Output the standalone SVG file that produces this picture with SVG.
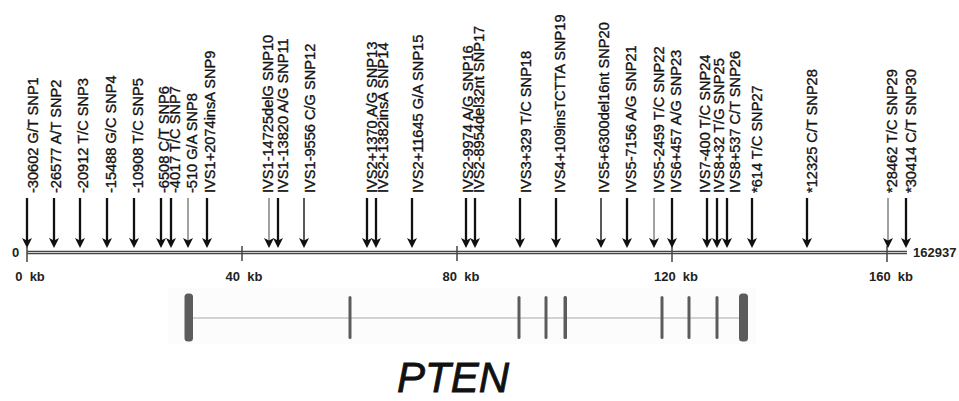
<svg xmlns="http://www.w3.org/2000/svg" width="959" height="401" viewBox="0 0 959 401">
<style>
.lb{font-family:"Liberation Sans",Arial,sans-serif;font-size:14.6px;fill:#111;stroke:#111;stroke-width:0.35}
.ax{font-family:"Liberation Sans",Arial,sans-serif;font-size:13px;font-weight:bold;fill:#222}
.ar{stroke:#111;stroke-width:2.3;fill:none}
.th{stroke:#222;stroke-width:1.5;fill:none}
.gr{stroke:#8a8a8a;stroke-width:1.6;fill:none}
.tk{stroke:#444;stroke-width:1.5}
.ex{fill:#5c5c5c}
</style>
<defs>
<marker id="ah" markerUnits="userSpaceOnUse" markerWidth="12" markerHeight="12" viewBox="0 -6 12 12" refX="6" refY="0" orient="auto">
<path d="M0,-5 L10,0 L0,5 L2.5,0 z" fill="#111"/>
</marker>
</defs>
<rect width="959" height="401" fill="#fff"/>

<g id="axis">
<line x1="27" y1="252.5" x2="907" y2="252.5" stroke="#444" stroke-width="3.6"/>
<line x1="27" y1="252.5" x2="907" y2="252.5" stroke="#cfcfcf" stroke-width="1.2"/>
<line class="tk" x1="27" y1="247" x2="27" y2="262"/>
<line class="tk" x1="242" y1="246" x2="242" y2="261"/>
<line class="tk" x1="457" y1="246" x2="457" y2="261"/>
<line class="tk" x1="672" y1="246" x2="672" y2="262"/>
<line class="tk" x1="887" y1="246" x2="887" y2="262"/>
<text class="ax" x="12" y="257">0</text>
<text class="ax" x="913" y="256.5">162937</text>
<text class="ax" x="30" y="281" text-anchor="middle" xml:space="preserve">0  kb</text>
<text class="ax" x="244" y="281" text-anchor="middle" xml:space="preserve">40  kb</text>
<text class="ax" x="461" y="281" text-anchor="middle" xml:space="preserve">80  kb</text>
<text class="ax" x="676" y="281" text-anchor="middle" xml:space="preserve">120  kb</text>
<text class="ax" x="891" y="281" text-anchor="middle" xml:space="preserve">160  kb</text>
</g>

<g id="connectors">
<line class="ar" x1="27" y1="198" x2="27" y2="244" marker-end="url(#ah)"/>
<line class="ar" x1="54" y1="198" x2="54" y2="244" marker-end="url(#ah)"/>
<line class="ar" x1="80" y1="198" x2="80" y2="244" marker-end="url(#ah)"/>
<line class="ar" x1="107" y1="198" x2="107" y2="244" marker-end="url(#ah)"/>
<line class="ar" x1="134" y1="198" x2="134" y2="244" marker-end="url(#ah)"/>
<line class="ar" x1="161" y1="198" x2="161" y2="244" marker-end="url(#ah)"/>
<line class="ar" x1="171" y1="198" x2="171" y2="244" marker-end="url(#ah)"/>
<line class="gr" x1="188" y1="198" x2="188" y2="244" marker-end="url(#ah)"/>
<line class="ar" x1="207" y1="198" x2="207" y2="244" marker-end="url(#ah)"/>
<line class="gr" x1="269" y1="198" x2="269" y2="244" marker-end="url(#ah)"/>
<line class="ar" x1="278" y1="198" x2="278" y2="244" marker-end="url(#ah)"/>
<line class="th" x1="304" y1="198" x2="304" y2="244" marker-end="url(#ah)"/>
<line class="ar" x1="367" y1="198" x2="367" y2="244" marker-end="url(#ah)"/>
<line class="ar" x1="376" y1="198" x2="376" y2="244" marker-end="url(#ah)"/>
<line class="ar" x1="412" y1="198" x2="412" y2="244" marker-end="url(#ah)"/>
<line class="ar" x1="466" y1="198" x2="466" y2="244" marker-end="url(#ah)"/>
<line class="ar" x1="475" y1="198" x2="475" y2="244" marker-end="url(#ah)"/>
<line class="ar" x1="520" y1="198" x2="520" y2="244" marker-end="url(#ah)"/>
<line class="ar" x1="556" y1="198" x2="556" y2="244" marker-end="url(#ah)"/>
<line class="th" x1="601" y1="198" x2="601" y2="244" marker-end="url(#ah)"/>
<line class="ar" x1="627" y1="198" x2="627" y2="244" marker-end="url(#ah)"/>
<line class="gr" x1="654" y1="198" x2="654" y2="244" marker-end="url(#ah)"/>
<line class="ar" x1="672" y1="198" x2="672" y2="244" marker-end="url(#ah)"/>
<line class="ar" x1="707" y1="198" x2="707" y2="244" marker-end="url(#ah)"/>
<line class="ar" x1="717" y1="198" x2="717" y2="244" marker-end="url(#ah)"/>
<line class="ar" x1="727" y1="198" x2="727" y2="244" marker-end="url(#ah)"/>
<line class="ar" x1="752" y1="198" x2="752" y2="244" marker-end="url(#ah)"/>
<line class="ar" x1="807" y1="198" x2="807" y2="244" marker-end="url(#ah)"/>
<line class="gr" x1="888" y1="198" x2="888" y2="244" marker-end="url(#ah)"/>
<line class="ar" x1="906" y1="198" x2="906" y2="244" marker-end="url(#ah)"/>
</g>

<g id="snp1"><text class="lb" transform="translate(38,193) rotate(-90)">-30602 G/T SNP1</text></g>
<g id="snp2"><text class="lb" transform="translate(61,193) rotate(-90)">-26577 A/T SNP2</text></g>
<g id="snp3"><text class="lb" transform="translate(88,193) rotate(-90)">-20912 T/C SNP3</text></g>
<g id="snp4"><text class="lb" transform="translate(116,193) rotate(-90)">-15488 G/C SNP4</text></g>
<g id="snp5"><text class="lb" transform="translate(143,193) rotate(-90)">-10908 T/C SNP5</text></g>
<g id="snp6"><text class="lb" transform="translate(169,193) rotate(-90)">-6508 C/T SNP6</text></g>
<g id="snp7"><text class="lb" transform="translate(180,193) rotate(-90)">-4017 T/C SNP7</text></g>
<g id="snp8"><text class="lb" transform="translate(197,193) rotate(-90)">-510 G/A SNP8</text></g>
<g id="snp9"><text class="lb" transform="translate(215,193) rotate(-90)">IVS1+2074insA SNP9</text></g>
<g id="snp10"><text class="lb" transform="translate(273,193) rotate(-90)">IVS1-14725delG SNP10</text></g>
<g id="snp11"><text class="lb" transform="translate(288,193) rotate(-90)">IVS1-13820 A/G SNP11</text></g>
<g id="snp12"><text class="lb" transform="translate(315,193) rotate(-90)">IVS1-9556 C/G SNP12</text></g>
<g id="snp13"><text class="lb" transform="translate(377,193) rotate(-90)">IVS2+1370 A/G SNP13</text></g>
<g id="snp14"><text class="lb" transform="translate(388,193) rotate(-90)">IVS2+1382insA SNP14</text></g>
<g id="snp15"><text class="lb" transform="translate(423,193) rotate(-90)">IVS2+11645 G/A SNP15</text></g>
<g id="snp16"><text class="lb" transform="translate(473,193) rotate(-90)">IVS2-9974 A/G SNP16</text></g>
<g id="snp17"><text class="lb" transform="translate(484,193) rotate(-90)">IVS2-8954del32nt SNP17</text></g>
<g id="snp18"><text class="lb" transform="translate(531,193) rotate(-90)">IVS3+329 T/C SNP18</text></g>
<g id="snp19"><text class="lb" transform="translate(565,193) rotate(-90)">IVS4+109insTCTTA SNP19</text></g>
<g id="snp20"><text class="lb" transform="translate(609,193) rotate(-90)">IVS5+6300del16nt SNP20</text></g>
<g id="snp21"><text class="lb" transform="translate(636,193) rotate(-90)">IVS5-7156 A/G SNP21</text></g>
<g id="snp22"><text class="lb" transform="translate(664,193) rotate(-90)">IVS5-2459 T/C SNP22</text></g>
<g id="snp23"><text class="lb" transform="translate(681,193) rotate(-90)">IVS6+457 A/G SNP23</text></g>
<g id="snp24"><text class="lb" transform="translate(710,193) rotate(-90)">IVS7-400 T/C SNP24</text></g>
<g id="snp25"><text class="lb" transform="translate(724,193) rotate(-90)">IVS8+32 T/G SNP25</text></g>
<g id="snp26"><text class="lb" transform="translate(740,193) rotate(-90)">IVS8+537 C/T SNP26</text></g>
<g id="snp27"><text class="lb" transform="translate(762,193) rotate(-90)">*614 T/C SNP27</text></g>
<g id="snp28"><text class="lb" transform="translate(817,193) rotate(-90)">*12325 C/T SNP28</text></g>
<g id="snp29"><text class="lb" transform="translate(897,193) rotate(-90)">*28462 T/C SNP29</text></g>
<g id="snp30"><text class="lb" transform="translate(916,193) rotate(-90)">*30414 C/T SNP30</text></g>

<g id="gene">
<rect x="168" y="288" width="588" height="56" fill="#fcfcfc"/>
<line x1="190" y1="318" x2="744" y2="318" stroke="#c4c4c4" stroke-width="1.6"/>
<rect class="ex" x="184.5" y="293.5" width="8.5" height="48" rx="3.5"/>
<rect class="ex" x="348.5" y="296" width="3" height="43" rx="1.5"/>
<rect class="ex" x="517.5" y="296" width="3" height="43" rx="1.5"/>
<rect class="ex" x="544.5" y="296" width="3" height="43" rx="1.5"/>
<rect class="ex" x="563.5" y="296" width="3.5" height="43" rx="1.5"/>
<rect class="ex" x="660.5" y="296" width="3" height="43" rx="1.5"/>
<rect class="ex" x="687.5" y="296" width="3" height="43" rx="1.5"/>
<rect class="ex" x="715.5" y="296" width="3" height="43" rx="1.5"/>
<rect class="ex" x="739" y="293.5" width="9" height="48" rx="3.5"/>
</g>

<g id="title">
<text x="453" y="392" text-anchor="middle" font-family="'Liberation Sans',Arial,sans-serif" font-style="italic" font-size="42" fill="#111" stroke="#111" stroke-width="0.8">PTEN</text>
</g>
</svg>
